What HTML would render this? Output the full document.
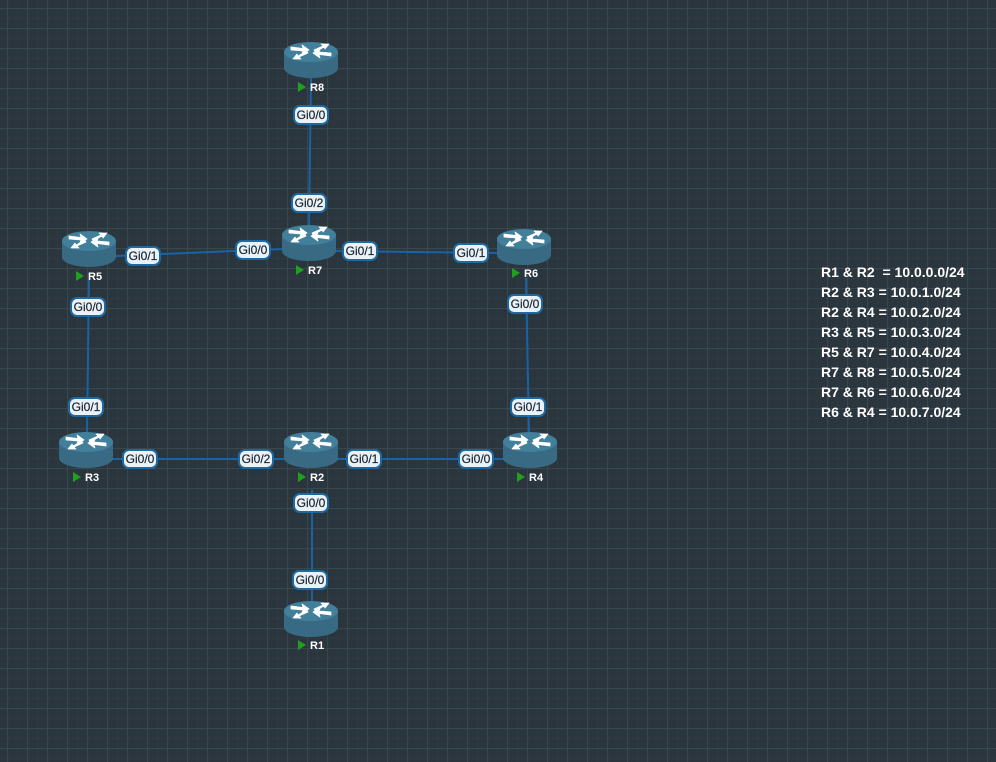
<!DOCTYPE html>
<html><head><meta charset="utf-8"><style>
html,body{margin:0;padding:0;background:#2a353d;}
svg{display:block}
text{font-family:"Liberation Sans",Arial,sans-serif}
</style></head><body>
<svg width="996" height="762" viewBox="0 0 996 762" xmlns="http://www.w3.org/2000/svg">
<defs>
<pattern id="minor" x="-3" y="-2" width="10" height="10" patternUnits="userSpaceOnUse">
<path d="M0 0H10M0 0V10" stroke="#323f47" stroke-width="1" fill="none"/>
</pattern>
<pattern id="major" x="7.5" y="8.5" width="20" height="20" patternUnits="userSpaceOnUse">
<path d="M0 0H20M0 0V20" stroke="#3e4c55" stroke-width="1.2" fill="none"/>
</pattern>
<g id="rt">
<path d="M-27 0 V16 A27 10 0 0 0 27 16 V0 Z" fill="#386b83"/>
<ellipse cx="0" cy="0" rx="27" ry="10" fill="#427f9a"/>
<g fill="#fff" stroke="#fff" stroke-width="0.8" stroke-linejoin="round">
<path d="M-20 -5 L-8 -3.5 L-9 -7 L-2 -2 L-9 1.5 L-8 -1 L-20 -2 Z"/>
<path d="M20 4 L8 2.5 L9 6 L2 1 L9 -2.5 L8 0 L20 1 Z"/>
<path d="M3 -2 L12 -6 L10 -8 L18 -8 L14 -3 L13 -5 L4 0 Z"/>
<path d="M-3 1 L-12 5 L-10 7 L-18 7 L-14 2 L-13 4 L-4 -1 Z"/>
</g>
</g>
<g id="lb">
<rect x="-17" y="-9" width="34" height="18" rx="6" fill="#eaf2f8" stroke="#1d6aa3" stroke-width="2"/>
</g>
</defs>
<rect width="996" height="762" fill="#2a353d"/>
<rect width="996" height="762" fill="url(#minor)"/>
<rect width="996" height="762" fill="url(#major)"/>

<g stroke="#1763a6" stroke-width="2" fill="none">
<line x1="311" y1="78" x2="309" y2="226"/>
<line x1="115" y1="256" x2="283" y2="249"/>
<line x1="335" y1="251" x2="498" y2="253"/>
<line x1="89" y1="280" x2="87" y2="433"/>
<line x1="526" y1="278" x2="529" y2="433"/>
<line x1="112" y1="459" x2="285" y2="459"/>
<line x1="337" y1="459" x2="504" y2="459"/>
<line x1="312" y1="490" x2="312" y2="602"/>
</g>

<g>
<use href="#rt" x="311" y="52"/>
<use href="#rt" x="309" y="235"/>
<use href="#rt" x="89" y="241"/>
<use href="#rt" x="524" y="239"/>
<use href="#rt" x="86" y="442"/>
<use href="#rt" x="311" y="442"/>
<use href="#rt" x="530" y="442"/>
<use href="#rt" x="311" y="611"/>
</g>

<g font-size="11" font-weight="bold" fill="#fff">
<path d="M298 82 L306 87 L298 92 Z" fill="#1fa01f"/><text x="310" y="91">R8</text>
<path d="M296 265 L304 270 L296 275 Z" fill="#1fa01f"/><text x="308" y="274">R7</text>
<path d="M76 271 L84 276 L76 281 Z" fill="#1fa01f"/><text x="88" y="280">R5</text>
<path d="M512 268 L520 273 L512 278 Z" fill="#1fa01f"/><text x="524" y="277">R6</text>
<path d="M73 472 L81 477 L73 482 Z" fill="#1fa01f"/><text x="85" y="481">R3</text>
<path d="M298 472 L306 477 L298 482 Z" fill="#1fa01f"/><text x="310" y="481">R2</text>
<path d="M517 472 L525 477 L517 482 Z" fill="#1fa01f"/><text x="529" y="481">R4</text>
<path d="M298 640 L306 645 L298 650 Z" fill="#1fa01f"/><text x="310" y="649">R1</text>
</g>

<g font-size="12" fill="#1a2630" text-anchor="middle" stroke="#1a2630" stroke-width="0.2">
<use href="#lb" x="311" y="115"/><text x="311" y="119">Gi0/0</text>
<use href="#lb" x="309" y="203"/><text x="309" y="207">Gi0/2</text>
<use href="#lb" x="143" y="256"/><text x="143" y="260">Gi0/1</text>
<use href="#lb" x="253" y="250"/><text x="253" y="254">Gi0/0</text>
<use href="#lb" x="360" y="251"/><text x="360" y="255">Gi0/1</text>
<use href="#lb" x="471" y="253"/><text x="471" y="257">Gi0/1</text>
<use href="#lb" x="88" y="307"/><text x="88" y="311">Gi0/0</text>
<use href="#lb" x="86" y="407"/><text x="86" y="411">Gi0/1</text>
<use href="#lb" x="525" y="304"/><text x="525" y="308">Gi0/0</text>
<use href="#lb" x="528" y="407"/><text x="528" y="411">Gi0/1</text>
<use href="#lb" x="140" y="459"/><text x="140" y="463">Gi0/0</text>
<use href="#lb" x="256" y="459"/><text x="256" y="463">Gi0/2</text>
<use href="#lb" x="364" y="459"/><text x="364" y="463">Gi0/1</text>
<use href="#lb" x="476" y="459"/><text x="476" y="463">Gi0/0</text>
<use href="#lb" x="311" y="503"/><text x="311" y="507">Gi0/0</text>
<use href="#lb" x="310" y="580"/><text x="310" y="584">Gi0/0</text>
</g>

<g font-size="14" font-weight="bold" fill="#fff">
<text x="821" y="277" xml:space="preserve">R1 &amp; R2  = 10.0.0.0/24</text>
<text x="821" y="297">R2 &amp; R3 = 10.0.1.0/24</text>
<text x="821" y="317">R2 &amp; R4 = 10.0.2.0/24</text>
<text x="821" y="337">R3 &amp; R5 = 10.0.3.0/24</text>
<text x="821" y="357">R5 &amp; R7 = 10.0.4.0/24</text>
<text x="821" y="377">R7 &amp; R8 = 10.0.5.0/24</text>
<text x="821" y="397">R7 &amp; R6 = 10.0.6.0/24</text>
<text x="821" y="417">R6 &amp; R4 = 10.0.7.0/24</text>
</g>
</svg>
</body></html>
